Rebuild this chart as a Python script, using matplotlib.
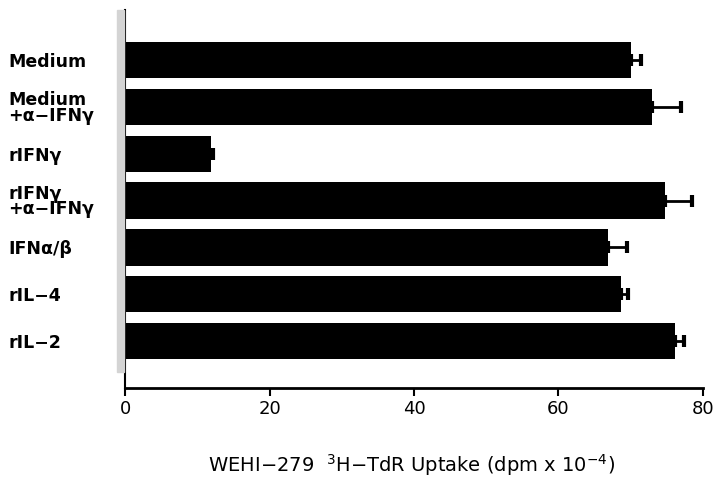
import matplotlib
matplotlib.use("Agg")
import matplotlib.pyplot as plt
from matplotlib.patches import Rectangle

categories = ["Medium", "Medium\n+\u03b1\u2212IFN\u03b3", "rIFN\u03b3", "rIFN\u03b3\n+\u03b1\u2212IFN\u03b3",
              "IFN\u03b1/\u03b2", "rIL\u22124", "rIL\u22122"]
values = [70.1, 73.0, 11.9, 74.7, 66.8, 68.7, 76.1]
errors = [1.3, 4.0, 0.3, 3.8, 2.7, 1.0, 1.3]
xticks = [0, 20, 40, 60, 80]

fig = plt.figure(figsize=(7.15, 4.8), dpi=100)
ax = fig.add_axes([0.175, 0.192, 0.808, 0.787])

# grey scan band left of axis
fig.patches.append(Rectangle((117/715, 1-372/480), 7/715, 362/480,
                             transform=fig.transFigure, color="#d4d4d4", zorder=0))

ypos = list(range(len(categories)))
ax.barh(ypos, values, height=0.78, color="black", zorder=2)
ax.errorbar(values, ypos, xerr=[[0]*len(errors), errors], fmt="none",
            ecolor="black", elinewidth=2, capsize=4, capthick=3, zorder=3)

ax.set_xlim(0, 80)
ax.set_ylim(len(categories) - 1 + 1.0, -1.07)
ax.set_xticks(xticks)
ax.set_xticklabels([str(t) for t in xticks], fontsize=13)
ax.set_yticks(ypos)
ax.set_yticklabels(categories, fontsize=12.5, fontweight="bold", ha="left",
                   linespacing=0.85)
ax.tick_params(axis="y", length=0, pad=84)
ax.tick_params(axis="x", direction="out", length=6, width=1.5, pad=3)

for s in ["top", "right"]:
    ax.spines[s].set_visible(False)
ax.spines["left"].set_linewidth(1.5)
ax.spines["bottom"].set_linewidth(2)

fig.text(0.575, 0.005, "WEHI\u2212279  $^{3}$H\u2212TdR Uptake (dpm x 10$^{\u22124}$)",
         ha="center", va="bottom", fontsize=14)

fig.savefig("out.png", dpi=100)
